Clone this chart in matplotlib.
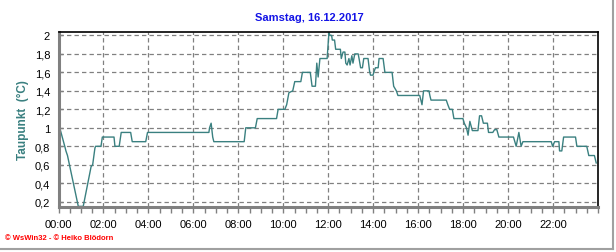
import matplotlib
matplotlib.use("Agg")
import matplotlib.pyplot as plt
from matplotlib.lines import Line2D
from matplotlib.ticker import FixedLocator, MultipleLocator, FuncFormatter

plt.rcParams['font.family'] = ['Liberation Sans', 'DejaVu Sans']

# time of day (hours) and dew point (°C)
hours = [0.00, 0.30, 0.33, 0.40, 0.88, 1.10, 1.45, 1.52, 1.62, 1.65, 1.89, 1.95,
         2.47, 2.51, 2.70, 2.79, 3.21, 3.28, 3.88, 3.96, 6.69, 6.72, 6.79, 6.86,
         6.91, 8.26, 8.33, 8.76, 8.84, 9.70, 9.77, 10.07, 10.15, 10.25, 10.42,
         10.51, 10.78, 10.85, 11.20, 11.28, 11.43, 11.49, 11.55, 11.63, 11.95,
         12.03, 12.08, 12.15, 12.18, 12.28, 12.33, 12.54, 12.58, 12.66, 12.74,
         12.78, 12.84, 12.92, 12.97, 13.05, 13.10, 13.18, 13.33, 13.37, 13.44,
         13.52, 13.58, 13.77, 13.84, 13.88, 13.99, 14.04, 14.10, 14.22, 14.26,
         14.44, 14.52, 14.84, 14.91, 15.03, 15.10, 16.07, 16.17, 16.24, 16.48,
         16.52, 16.57, 17.25, 17.32, 17.40, 17.52, 17.59, 17.99, 18.05, 18.15,
         18.22, 18.30, 18.41, 18.66, 18.73, 18.82, 18.90, 19.08, 19.13, 19.32,
         19.40, 19.50, 19.59, 20.24, 20.36, 20.48, 20.58, 20.66, 21.92, 21.98,
         22.07, 22.26, 22.29, 22.39, 22.47, 23.00, 23.06, 23.50, 23.59, 23.84,
         23.92]
taupunkt = [1.05, 0.78, 0.75, 0.70, 0.15, 0.15, 0.58, 0.60, 0.78, 0.80, 0.80, 0.90,
            0.90, 0.80, 0.80, 0.95, 0.95, 0.85, 0.85, 0.95, 0.95, 1.00, 1.05, 0.90,
            0.85, 0.85, 1.00, 1.00, 1.10, 1.10, 1.20, 1.20, 1.25, 1.38, 1.40,
            1.50, 1.50, 1.60, 1.60, 1.45, 1.45, 1.70, 1.55, 1.75, 1.75,
            2.03, 2.00, 2.00, 1.95, 1.95, 1.85, 1.85, 1.75, 1.82, 1.82,
            1.70, 1.68, 1.75, 1.68, 1.78, 1.70, 1.80, 1.80, 1.75, 1.65,
            1.65, 1.75, 1.75, 1.61, 1.57, 1.57, 1.61, 1.65, 1.65, 1.75,
            1.75, 1.60, 1.60, 1.45, 1.40, 1.35, 1.35, 1.25, 1.40, 1.40,
            1.35, 1.30, 1.30, 1.25, 1.20, 1.20, 1.10, 1.10, 1.05, 1.00,
            0.92, 1.07, 0.97, 0.97, 1.13, 1.13, 1.05, 1.05, 0.95, 0.95,
            0.98, 0.98, 0.90, 0.90, 0.80, 0.95, 0.80, 0.85, 0.85, 0.80,
            0.85, 0.85, 0.75, 0.75, 0.90, 0.90, 0.80, 0.80, 0.70, 0.70,
            0.62]

x_ticks = list(range(0, 24, 2))
x_labels = ["%02d:00" % h for h in x_ticks]
y_ticks = [0.2, 0.4, 0.6, 0.8, 1.0, 1.2, 1.4, 1.6, 1.8, 2.0]

W, H = 616, 253
fig = plt.figure(figsize=(W / 100, H / 100), dpi=100)
ax = fig.add_axes([58.5 / W, 1 - 208 / H, (598 - 58.5) / W, (208 - 33) / H])

ax.plot(hours, taupunkt, color="#3a8080", lw=1.0, clip_on=True)

ax.set_xlim(0, 24)
ax.set_ylim(0.143, 2.037)

ax.xaxis.set_major_locator(FixedLocator(x_ticks))
ax.set_xticklabels(x_labels)
ax.xaxis.set_minor_locator(MultipleLocator(0.5))
ax.yaxis.set_major_locator(FixedLocator(y_ticks))
ax.yaxis.set_major_formatter(FuncFormatter(lambda v, p: ("%g" % round(v, 1)).replace(".", ",")))

ax.grid(True, which="major", color="#808080", linestyle=(0, (3.5, 2.5)), lw=0.9)

ax.tick_params(axis="x", which="both", direction="out", length=4, width=1,
               color="#808080", labelsize=8, pad=5)
ax.tick_params(axis="y", which="major", direction="in", length=3, width=1,
               color="#808080", labelsize=8, pad=6)

for s in ("left", "bottom"):
    ax.spines[s].set_color("#808080")
    ax.spines[s].set_linewidth(2.2)
for s in ("top", "right"):
    ax.spines[s].set_color("black")
    ax.spines[s].set_linewidth(1.2)

ax.set_ylabel("Taupunkt  (°C)", color="#3a8080", fontsize=8.5, fontweight="bold", labelpad=4)

fig.text(309 / W, 1 - 18 / H, "Samstag, 16.12.2017", color="#1414e6",
         fontsize=8, fontweight="bold", ha="center", va="center")
fig.text(5 / W, 1 - 239 / H, "© WsWin32 - © Heiko Blödorn", color="red",
         fontsize=5.5, fontweight="bold", ha="left", va="center")

# gray frame on the right and bottom
fig.add_artist(Line2D([613 / W, 613 / W], [1 - 250 / H, 1], color="#a0a0a0", lw=1.5,
                      transform=fig.transFigure))
fig.add_artist(Line2D([0, 613 / W], [1 - 250 / H, 1 - 250 / H], color="#a0a0a0", lw=1.5,
                      transform=fig.transFigure))

fig.savefig("out.png", dpi=100)
